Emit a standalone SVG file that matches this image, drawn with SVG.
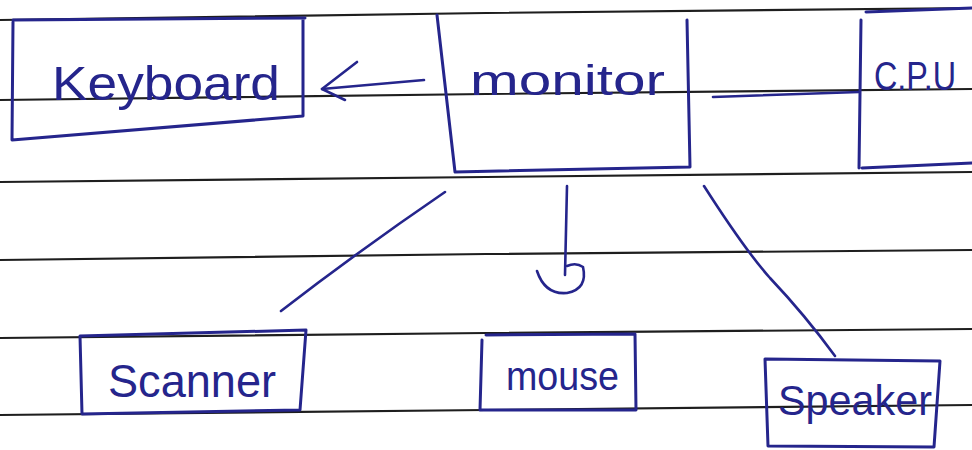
<svg xmlns="http://www.w3.org/2000/svg" width="972" height="450" viewBox="0 0 972 450">
<style>
.paper{stroke:#1e1e1e;stroke-width:2.2;fill:none}
.box{stroke:#25258c;stroke-width:3;fill:none;stroke-linejoin:round;stroke-linecap:round}
.ink{stroke:#25258c;stroke-width:2.6;fill:none;stroke-linecap:round;stroke-linejoin:round}
.lbl{font-family:"Liberation Sans","DejaVu Sans",sans-serif;fill:#25258c;font-weight:normal}
</style>
<rect width="972" height="450" fill="#ffffff"/>
<g id="paper-lines">
<path class="paper" d="M0 20 L486 13 L972 8"/>
<path class="paper" d="M0 100 L486 94 L972 89"/>
<path class="paper" d="M0 182 L486 177 L972 172"/>
<path class="paper" d="M0 260 L486 254 L972 250"/>
<path class="paper" d="M0 338 L486 333 L972 329"/>
<path class="paper" d="M0 415 L486 410 L972 405"/>
</g>
<g id="connectors">
<path class="ink" d="M424 80 L322 89"/>
<path class="ink" d="M357 62 L322 89 L345 100"/>
<path class="ink" d="M713 97 L859 92"/>
<path class="ink" d="M445 192 Q360 250 281 311"/>
<path class="ink" d="M567 186 L565 275"/>
<path class="ink" d="M537 271 Q545 295 567 293 Q588 289 583 267 Q576 262 567 266"/>
<path class="ink" d="M704 186 Q745 250 770 278 Q805 315 835 356"/>
</g>
<g id="keyboard">
<path class="box" d="M13 20 L305 18 M303 18 L303 116 L12 140 L13 22"/>
<text class="lbl" x="52" y="100" font-size="48" textLength="228" lengthAdjust="spacingAndGlyphs">Keyboard</text>
</g>
<g id="monitor">
<path class="box" d="M437 15 L455 172 L690 167 L687 20"/>
<text class="lbl" x="470" y="95" font-size="42" textLength="195" lengthAdjust="spacingAndGlyphs">monitor</text>
</g>
<g id="cpu">
<path class="box" d="M866 12 L972 8 M861 20 L859 168 M862 168 L972 163"/>
<text class="lbl" x="874" y="90" font-size="40" textLength="82" lengthAdjust="spacingAndGlyphs">C.P.U</text>
</g>
<g id="scanner">
<path class="box" d="M80 336 L306 330 L300 410 L82 414 Z"/>
<text class="lbl" x="108" y="397" font-size="46" textLength="168" lengthAdjust="spacingAndGlyphs">Scanner</text>
</g>
<g id="mouse">
<path class="box" d="M486 335 L635 334 L636 410 L480 410 L482 340"/>
<text class="lbl" x="506" y="390" font-size="40" textLength="113" lengthAdjust="spacingAndGlyphs">mouse</text>
</g>
<g id="speaker">
<path class="box" d="M765 359 L940 361 L934 447 L768 446 Z"/>
<text class="lbl" x="778" y="415" font-size="42" textLength="154" lengthAdjust="spacingAndGlyphs">Speaker</text>
</g>
</svg>
